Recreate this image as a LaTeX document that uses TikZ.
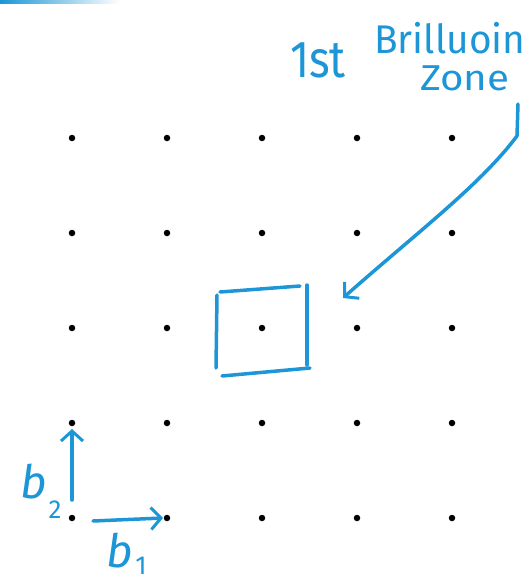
\documentclass[tikz,border=0pt]{standalone}
\usepackage{fontspec}
\usepackage{graphicx}
\newfontfamily\hand{Fira Sans}
\usetikzlibrary{arrows.meta}
\definecolor{pen}{RGB}{28,150,214}
\tikzset{
  dot/.style={circle,fill=black,inner sep=0pt,minimum size=6.5pt},
  ink/.style={draw=pen,line width=3.5pt,line cap=round,line join=round},
  inkarrow/.style={ink,-{Straight Barb[length=10pt,width=22pt,line width=3pt]}},
  handtext/.style={text=pen,inner sep=0pt,anchor=base west}
}
\begin{document}
\begin{tikzpicture}[x=1pt,y=-1pt]
\useasboundingbox (0,0) rectangle (530,584);
% faded stroke at top-left
\shade[left color=pen,right color=white] (0,0) rectangle (120,3);
% lattice
\foreach \i [count=\a] in {72,167,262,357,452}{
  \foreach \j [count=\b] in {138,233,328,423,518}{
    \node[dot] (p\a\b) at (\i,\j) {};
  }
}
% Brillouin zone box
\draw[ink] (220,292) -- (300,286);
\draw[ink] (307,285) -- (307,365);
\draw[ink] (222,376) -- (310,368);
\draw[ink] (217,295) -- (216,368);
% labels
\node[handtext] (first) at (290,77) {\hand\fontsize{52}{52}\selectfont\scalebox{0.85}[1]{1st}};
\node[handtext] (bril) at (374,53) {\hand\fontsize{40}{40}\selectfont\scalebox{0.97}[1]{Brilluoin}};
\node[handtext] (zone) at (420,90) {\hand\fontsize{36}{36}\selectfont\scalebox{1.12}[1]{Zone}};
% curved arrow
\coordinate (s0) at (518,104);
\coordinate (s1) at (517,136);
\coordinate (tip) at (343,298);
\draw[ink] (s0) -- (s1);
\draw[inkarrow] (s1) .. controls (480,185) and (420,230) .. (tip);
% basis vectors
\coordinate (b2s) at (72,500);
\coordinate (b2e) at (72,429);
\coordinate (b1s) at (93,521);
\coordinate (b1e) at (163,518);
\draw[inkarrow] (b2s) -- (b2e);
\draw[inkarrow] (b1s) -- (b1e);
\node[text=pen,inner sep=0pt] (lb2) at (34,482) {\hand\fontsize{46}{46}\selectfont\itshape b};
\node[text=pen,inner sep=0pt] (lb2s) at (55,510) {\hand\fontsize{26}{26}\selectfont 2};
\node[text=pen,inner sep=0pt] (lb1) at (120,551) {\hand\fontsize{46}{46}\selectfont\itshape b};
\node[text=pen,inner sep=0pt] (lb1s) at (141,566) {\hand\fontsize{26}{26}\selectfont 1};
\end{tikzpicture}
\end{document}
